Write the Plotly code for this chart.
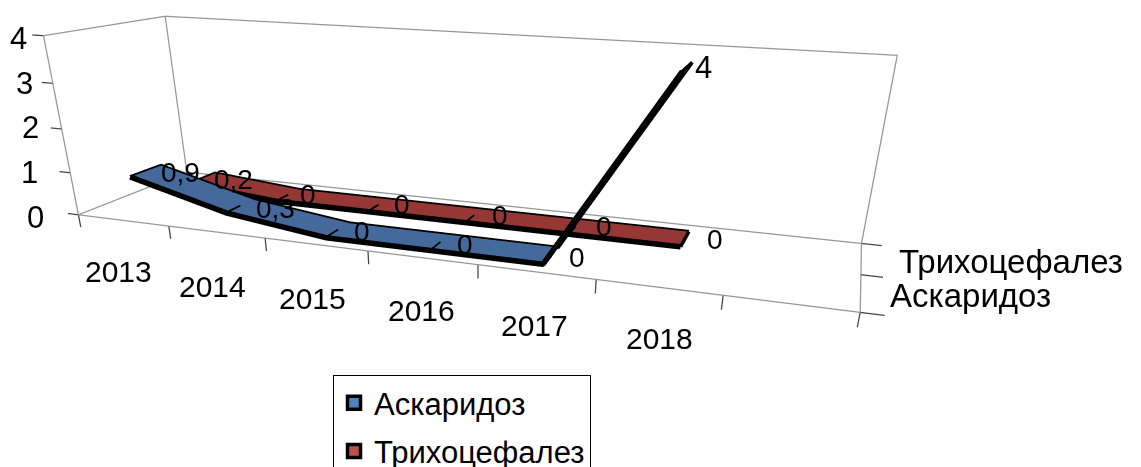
import numpy as np
import plotly.graph_objects as go

years = ["2013", "2014", "2015", "2016", "2017", "2018"]
ascaris = [0.9, 0.3, 0, 0, 0, 4]
trich = [0.2, 0, 0, 0, 0, 0]
series = ["Аскаридоз", "Трихоцефалез"]
value_ticks = [0, 1, 2, 3, 4]

# axis extents of the drawn box (7 category slots, 2 depth slots)
x0, x1 = -0.5, 6.5
y0, y1 = -0.5, 1.5
z0, z1 = 0, 4
# camera
W, H = 1000, 800
EYE = (0.880, -2.286, 0.538)
CENTER = (0.609, -1.471, 0.093)
UP = (-1.137, 3.323, 1.0)
BOX = (2.0, 0.491, 0.454)

# label anchors on screen (px)
year_px = [(118, 272), (212, 286), (313, 298), (421, 311), (535, 325), (659, 339)]
value_px = [(36, 218), (30, 173), (30, 128), (25, 84), (19, 39)]
depth_px = [(888, 296), (897, 262)]
asc_px = [(180, 173), (275, 209), (362, 232), (465, 245), (577, 258), (703, 68)]
tri_px = [(233, 180), (308, 195), (402, 205), (500, 216), (604, 227), (715, 240)]


def project(x, y, z):
    e, c, u, a = map(lambda v: np.array(v, float), (EYE, CENTER, UP, BOX))
    w = (np.array([(x - x0) / (x1 - x0), (y - y0) / (y1 - y0), (z - z0) / (z1 - z0)]) - 0.5) * a
    f = (c - e) / np.linalg.norm(c - e)
    s = np.cross(f, u); s /= np.linalg.norm(s)
    v = np.cross(s, f)
    r = w - e
    t = np.tan(np.pi / 8)
    nx = (r @ s) / ((r @ f) * t * W / H)
    ny = (r @ v) / ((r @ f) * t)
    return (nx + 1) / 2 * W, (1 - ny) / 2 * H


def ann(x, y, z, text, target, size, **kw):
    px, py = project(x, y, z)
    return dict(x=x, y=y, z=z, text=text, showarrow=False,
                font=dict(family="Liberation Sans", size=size, color="black"),
                xshift=target[0] - px, yshift=py - target[1], **kw)


def ribbon(vals, yc, color, hw=0.27):
    xs = list(range(len(vals)))
    n = len(xs)
    X = xs + xs
    Y = [yc - hw] * n + [yc + hw] * n
    Z = list(vals) + list(vals)
    I, J, K = [], [], []
    for i in range(n - 1):
        I += [i, i]
        J += [i + 1, n + i + 1]
        K += [n + i + 1, n + i]
    out = [go.Mesh3d(x=X, y=Y, z=Z, i=I, j=J, k=K, color=color, flatshading=True,
                     lighting=dict(ambient=1, diffuse=0, specular=0, fresnel=0),
                     showlegend=False, hoverinfo="skip")]
    lx = xs[::-1] + [xs[0]]
    ly = [yc + hw] * n + [yc - hw]
    lz = list(vals)[::-1] + [vals[0]]
    lx += [None, xs[-1], xs[-1]]
    ly += [None, yc - hw, yc + hw]
    lz += [None, vals[-1], vals[-1]]
    for i in range(1, n - 1):
        lx += [None, xs[i], xs[i]]
        ly += [None, yc - hw, yc]
        lz += [None, vals[i], vals[i]]
    out.append(go.Scatter3d(x=lx, y=ly, z=lz, mode="lines", line=dict(color="black", width=7),
                            showlegend=False, hoverinfo="skip"))
    out.append(go.Scatter3d(x=xs, y=[yc - hw] * n, z=vals, mode="lines", line=dict(color="black", width=11),
                            showlegend=False, hoverinfo="skip"))
    return out


fig = go.Figure()
fx = [x1, x0, x0, x1, x1, None, x0, x0, x1, x1, None, x0, x0, x0]
fy = [y0, y0, y1, y1, y0, None, y1, y1, y1, y1, None, y0, y0, y1]
fz = [z0, z0, z0, z0, z0, None, z0, z1, z1, z0, None, z0, z1, z1]
fig.add_trace(go.Scatter3d(x=fx, y=fy, z=fz, mode="lines", line=dict(color="#969696", width=2.5),
                           showlegend=False, hoverinfo="skip"))
tx, ty, tz = [], [], []
for v in value_ticks:
    tx += [x0, x0 - 0.12, None]; ty += [y0, y0, None]; tz += [v, v, None]
for i in range(8):
    tx += [x0 + i, x0 + i, None]; ty += [y0, y0, None]; tz += [0, -0.3, None]
for d in [y0, 0.5, y1]:
    tx += [x1, x1 + 0.17, None]; ty += [d, d, None]; tz += [0, 0, None]
fig.add_trace(go.Scatter3d(x=tx, y=ty, z=tz, mode="lines", line=dict(color="#444444", width=2.5),
                           showlegend=False, hoverinfo="skip"))
for t in ribbon(trich, 1, "#953735"):
    fig.add_trace(t)
for t in ribbon(ascaris, 0, "#44699a"):
    fig.add_trace(t)
for nm, col in zip(series, ["#4f81bd", "#c0504d"]):
    fig.add_trace(go.Scatter(x=[None], y=[None], mode="markers", name=nm, legendgroup=nm,
                             marker=dict(symbol="square", size=13, color=col, line=dict(color="black", width=3.5))))

anns = []
for i, yr in enumerate(years):
    anns.append(ann(i, y0, 0, yr, year_px[i], 30))
for v in value_ticks:
    anns.append(ann(x0, y0, v, str(v), value_px[v], 31))
for d, nm in enumerate(series):
    anns.append(ann(x1, d, 0, nm, depth_px[d], 33, xanchor="left"))
for d, (vals, pos) in enumerate([(ascaris, asc_px), (trich, tri_px)]):
    for i, v in enumerate(vals):
        anns.append(ann(i, d, v, str(v).replace(".", ","), pos[i], 31 if v == 4 else 28))

hidden = dict(visible=False, showspikes=False)
fig.update_layout(
    width=1141, height=H, margin=dict(l=0, r=0, t=0, b=0), paper_bgcolor="white", plot_bgcolor="white",
    xaxis=dict(visible=False), yaxis=dict(visible=False),
    showlegend=True,
    legend=dict(x=333 / 1141, y=1 - 375 / H, xanchor="left", yanchor="top", bordercolor="black", borderwidth=1,
                font=dict(family="Liberation Sans", size=31, color="black"), tracegroupgap=5,
                bgcolor="white", itemclick=False, itemdoubleclick=False),
    scene=dict(domain=dict(x=[0, W / 1141], y=[0, 1]),
               xaxis=dict(hidden, range=[-1.5, 7.5]), yaxis=dict(hidden, range=[-1, 2]), zaxis=dict(hidden, range=[-1, 5]),
               aspectmode="manual",
               aspectratio=dict(x=BOX[0] * 9 / 7, y=BOX[1] * 3 / 2, z=BOX[2] * 6 / 4),
               camera=dict(eye=dict(x=EYE[0], y=EYE[1], z=EYE[2]), center=dict(x=CENTER[0], y=CENTER[1], z=CENTER[2]),
                           up=dict(x=UP[0], y=UP[1], z=UP[2]), projection=dict(type="perspective")),
               annotations=anns))
fig.write_html("out.html", config=dict(displayModeBar=False),
               post_script="document.body.style.margin='0';document.documentElement.style.overflow='hidden';")
